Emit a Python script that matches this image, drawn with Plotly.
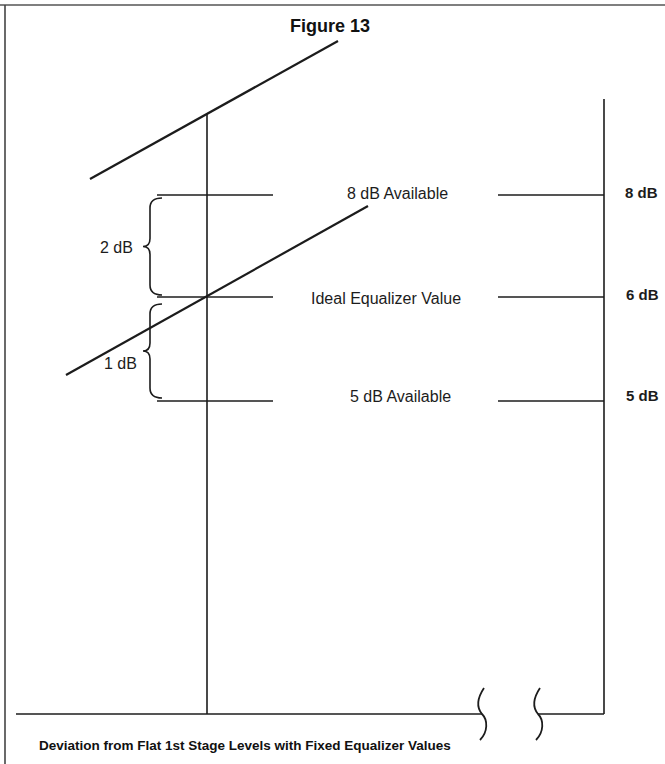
import plotly.graph_objects as go

# diagram geometry (page units, y grows downward)
level_names = ["8 dB", "6 dB", "5 dB"]
level_y = [195, 297, 401]
level_text = ["8 dB Available", "Ideal Equalizer Value", "5 dB Available"]
level_text_x = [397, 386, 400]
level_text_y = [193, 298, 396]
right_label_x = [641, 642, 642]
right_label_y = [192, 294, 395]

left_tick_x = [157, 273]
right_tick_x = [498, 604]

left_axis_x = 207
left_axis_top = 114
right_axis_x = 604
right_axis_top = 99
base_y = 714
base_left = [16, 482]
base_right = [538, 604]
break_x = [482, 538]

upper_slope_x = [90, 338]
upper_slope_y = [179, 41]
mid_slope_x = [66, 368]
mid_slope_y = [375, 206]

brace_top = [198, 304]
brace_bottom = [295, 398]
brace_labels = ["2 dB", "1 dB"]
brace_label_x = [116, 120]
brace_label_y = [247, 363]

INK = "#1c1c1c"
FONT = "Liberation Sans, Arial, sans-serif"

fig = go.Figure()


def add_line(xs, ys, width=1.6, color=INK):
    fig.add_trace(go.Scatter(x=xs, y=ys, mode="lines",
                             line=dict(color=color, width=width),
                             hoverinfo="skip"))


# page frame
add_line([0, 665], [5, 5], width=1.4, color="#555")
add_line([5, 5], [5, 764], width=1.6, color="#444")

# sloped response lines
add_line(upper_slope_x, upper_slope_y, width=2.2)
add_line(mid_slope_x, mid_slope_y, width=2.2)

# vertical axes
add_line([left_axis_x, left_axis_x], [left_axis_top, base_y], width=1.6)
add_line([right_axis_x, right_axis_x], [right_axis_top, base_y], width=1.6)

# baseline with break
add_line(base_left, [base_y, base_y], width=1.6)
add_line(base_right, [base_y, base_y], width=1.6)

# level ticks
for y in level_y:
    add_line(left_tick_x, [y, y], width=1.5)
    add_line(right_tick_x, [y, y], width=1.5)

shapes = []
# braces
for top, bot in zip(brace_top, brace_bottom):
    mid = (top + bot) / 2
    xr, xb, xt = 162, 150, 143
    path = (f"M {xr},{top} Q {xb},{top} {xb},{top + 10} L {xb},{mid - 8} "
            f"Q {xb},{mid} {xt},{mid} Q {xb},{mid} {xb},{mid + 8} "
            f"L {xb},{bot - 10} Q {xb},{bot} {xr},{bot}")
    shapes.append(dict(type="path", path=path, xref="x", yref="y",
                       line=dict(color=INK, width=1.6)))

# axis break marks
for bx in break_x:
    path = (f"M {bx + 2},688 C {bx - 6},700 {bx - 5},708 {bx},{base_y} "
            f"C {bx + 6},720 {bx + 6},732 {bx - 2},740")
    shapes.append(dict(type="path", path=path, xref="x", yref="y",
                       line=dict(color=INK, width=1.8)))

annotations = []
for t, x, y in zip(level_text, level_text_x, level_text_y):
    annotations.append(dict(x=x, y=y, text=t, showarrow=False,
                            font=dict(family=FONT, size=16, color=INK)))
for t, x, y in zip(level_names, right_label_x, right_label_y):
    annotations.append(dict(x=x, y=y, text=f"<b>{t}</b>", showarrow=False,
                            font=dict(family=FONT, size=15, color=INK)))
for t, x, y in zip(brace_labels, brace_label_x, brace_label_y):
    annotations.append(dict(x=x, y=y, text=t, showarrow=False,
                            font=dict(family=FONT, size=16, color=INK)))

annotations.append(dict(x=330, y=26, text="<b>Figure 13</b>", showarrow=False,
                        font=dict(family=FONT, size=18, color="#111")))
annotations.append(dict(x=37, y=745, xanchor="left",
                        text="<b>Deviation from Flat 1st Stage Levels with Fixed Equalizer Values</b>",
                        showarrow=False,
                        font=dict(family=FONT, size=13.5, color="#111")))

fig.update_layout(
    width=665,
    height=764,
    margin=dict(l=0, r=0, t=0, b=0),
    paper_bgcolor="white",
    plot_bgcolor="white",
    showlegend=False,
    shapes=shapes,
    annotations=annotations,
    xaxis=dict(range=[0, 665], visible=False, fixedrange=True),
    yaxis=dict(range=[764, 0], visible=False, fixedrange=True),
)

fig.write_html("out.html", config={"displayModeBar": False},
               post_script="document.body.style.margin='0';")
